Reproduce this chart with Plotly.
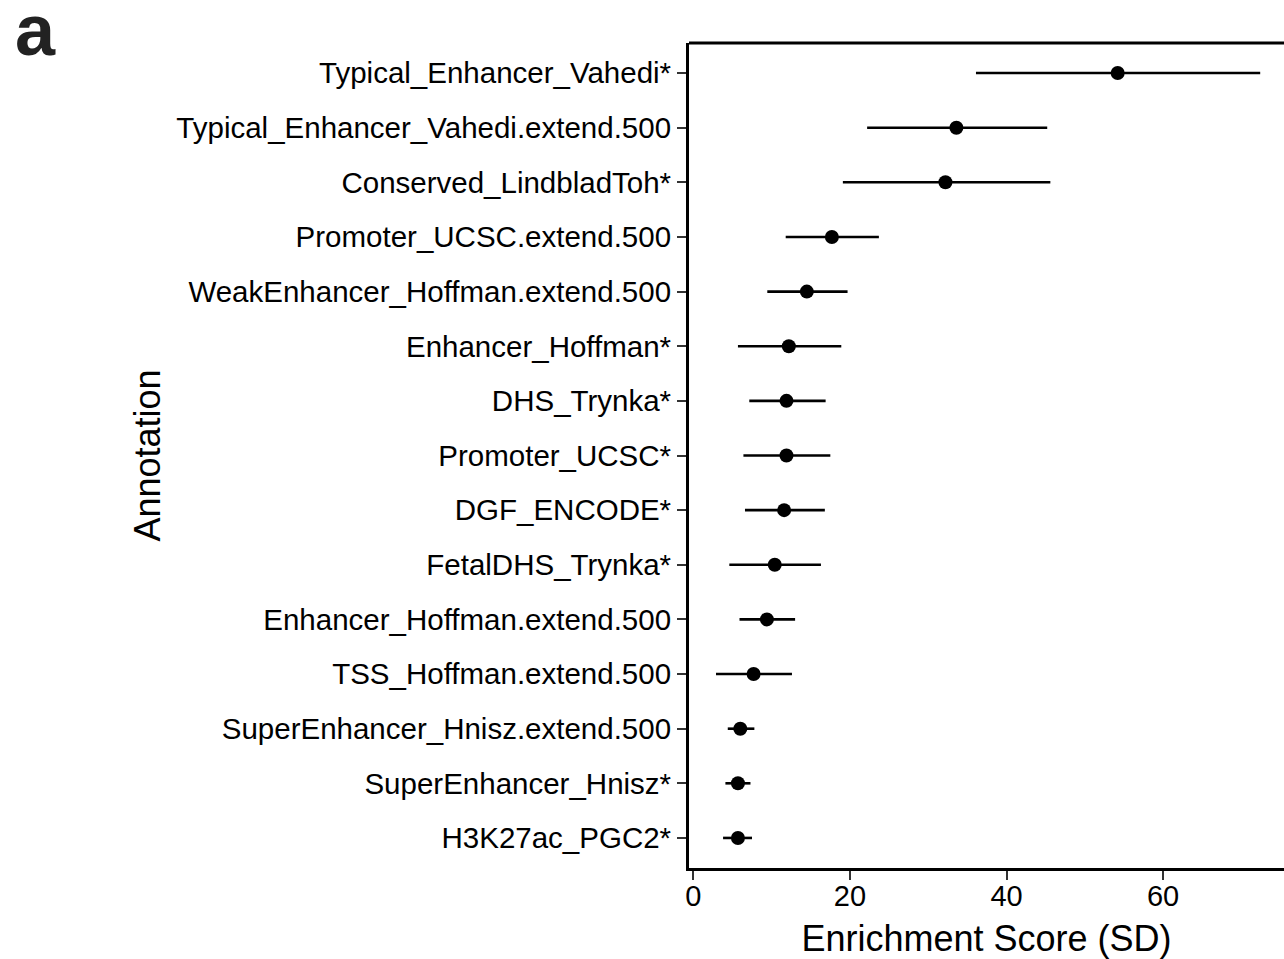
import plotly.graph_objects as go

# Annotations, top to bottom
annotations = [
    "Typical_Enhancer_Vahedi*",
    "Typical_Enhancer_Vahedi.extend.500",
    "Conserved_LindbladToh*",
    "Promoter_UCSC.extend.500",
    "WeakEnhancer_Hoffman.extend.500",
    "Enhancer_Hoffman*",
    "DHS_Trynka*",
    "Promoter_UCSC*",
    "DGF_ENCODE*",
    "FetalDHS_Trynka*",
    "Enhancer_Hoffman.extend.500",
    "TSS_Hoffman.extend.500",
    "SuperEnhancer_Hnisz.extend.500",
    "SuperEnhancer_Hnisz*",
    "H3K27ac_PGC2*",
]
# Enrichment score (SD) and its interval bounds
enrichment = [54.2, 33.6, 32.2, 17.7, 14.5, 12.2, 11.9, 11.9, 11.6, 10.4, 9.4, 7.7, 6.0, 5.7, 5.7]
lower = [36.1, 22.2, 19.1, 11.8, 9.45, 5.7, 7.15, 6.4, 6.6, 4.6, 5.9, 2.9, 4.4, 4.1, 3.8]
upper = [72.4, 45.2, 45.6, 23.7, 19.7, 18.9, 16.9, 17.5, 16.8, 16.3, 13.0, 12.6, 7.8, 7.3, 7.5]

x_ticks = [0, 20, 40, 60]

err_plus = [u - e for u, e in zip(upper, enrichment)]
err_minus = [e - l for e, l in zip(enrichment, lower)]

FONT = "Liberation Sans, Arial, Helvetica, sans-serif"

W, H = 1284, 959
M_L, M_R, M_T, M_B = 689, 0, 43, 91
PW, PH = W - M_L - M_R, H - M_T - M_B

fig = go.Figure()
fig.add_trace(go.Scatter(
    x=enrichment,
    y=annotations,
    mode="markers",
    marker=dict(size=14, color="black"),
    error_x=dict(type="data", symmetric=False, array=err_plus, arrayminus=err_minus,
                 color="black", thickness=2.6, width=0),
    showlegend=False,
    hoverinfo="skip",
))

n = len(annotations)
fig.update_layout(
    width=W, height=H,
    margin=dict(l=M_L, r=M_R, t=M_T, b=M_B),
    paper_bgcolor="white", plot_bgcolor="white",
    font=dict(family=FONT, color="black"),
    xaxis=dict(
        range=[-0.55, 75.44], tickvals=x_ticks, ticktext=[str(v) for v in x_ticks],
        showgrid=False, zeroline=False,
        showline=True, linecolor="black", linewidth=3,
        ticks="outside", ticklen=9, tickwidth=2, tickcolor="#333333",
        ticklabelstandoff=-9,
        tickfont=dict(size=29, color="black", family=FONT),
        title=dict(text="Enrichment Score (SD)", font=dict(size=36, family=FONT, color="black"), standoff=17),
    ),
    yaxis=dict(
        type="category", categoryorder="array", categoryarray=annotations,
        range=[n - 1 + 0.55, -0.55],
        showgrid=False, zeroline=False,
        showline=True, linecolor="black", linewidth=3,
        ticks="outside", ticklen=9, tickwidth=2, tickcolor="#333333",
        tickfont=dict(size=29.5, color="black", family=FONT),
        title=dict(text="Annotation", font=dict(size=36, family=FONT, color="black"), standoff=5),
    ),
    shapes=[dict(type="line", xref="paper", yref="paper", x0=0, x1=1, y0=1, y1=1,
                 line=dict(color="black", width=3))],
    annotations=[dict(text="<b>a</b>", xref="paper", yref="paper",
                      x=(13 - M_L) / PW, y=1 + (M_T - 30) / PH,
                      xanchor="left", yanchor="middle", showarrow=False,
                      font=dict(size=72, family=FONT, color="#222222"))],
)

fig.write_html("out.html")
